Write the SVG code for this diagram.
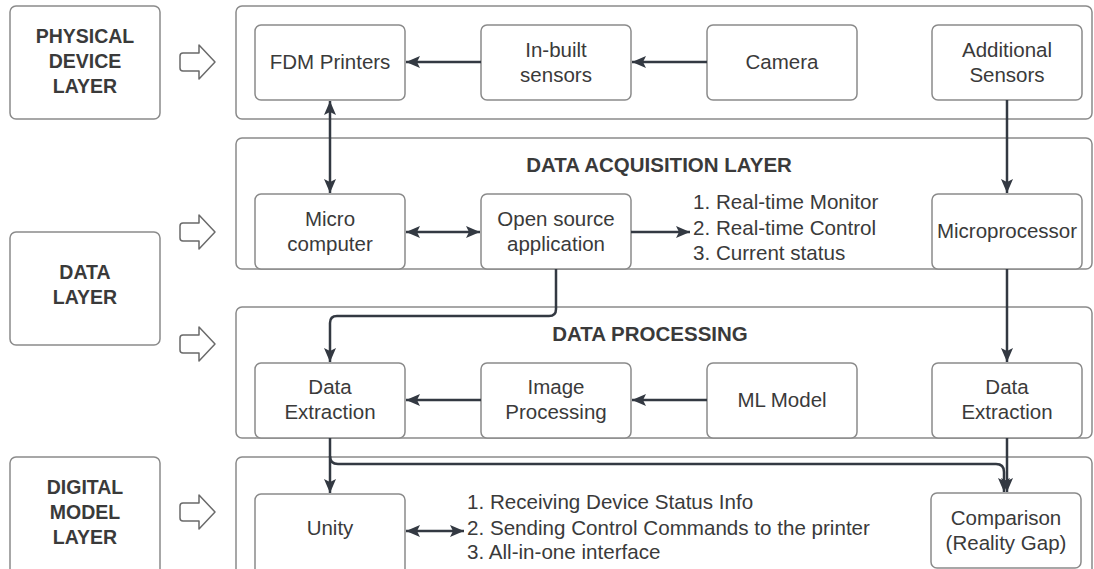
<svg xmlns="http://www.w3.org/2000/svg" width="1094" height="569" viewBox="0 0 1094 569">
  <defs>
    <style>
      .frame { fill: #ffffff; stroke: #8a8a8a; stroke-width: 1.5; }
      .node { fill: #ffffff; stroke: #8a8a8a; stroke-width: 1.5; }
      .hollow { fill: #ffffff; stroke: #6a6a6a; stroke-width: 1.5; stroke-linejoin: round; }
      .lbl { font-family: "Liberation Sans", Arial, sans-serif; font-size: 20.5px; fill: #3a3a3a; text-anchor: middle; }
      .layer { font-family: "Liberation Sans", Arial, sans-serif; font-size: 19.5px; font-weight: bold; fill: #3a3a3a; text-anchor: middle; }
      .title { font-family: "Liberation Sans", Arial, sans-serif; font-size: 20.5px; font-weight: bold; fill: #3a3a3a; text-anchor: middle; }
      .list { font-family: "Liberation Sans", Arial, sans-serif; font-size: 20.6px; fill: #3a3a3a; }
      .link { fill: none; stroke: #333942; stroke-width: 2.5; stroke-linejoin: round; }
    </style>
    <marker id="tip" markerUnits="userSpaceOnUse" markerWidth="14" markerHeight="12" viewBox="0 0 14 12" refX="14" refY="6" orient="auto-start-reverse">
      <path d="M0,0 L14,6 L0,12 L3,6 Z" fill="#333942"/>
    </marker>
  </defs>

  <!-- layer frames -->
  <g id="frames">
    <rect class="frame" x="236" y="6" width="856" height="113" rx="6"/>
    <rect class="frame" x="236" y="138" width="856" height="131" rx="6"/>
    <rect class="frame" x="236" y="307" width="856" height="131" rx="6"/>
    <rect class="frame" x="236" y="457" width="856" height="120" rx="6"/>
  </g>

  <!-- layer names -->
  <g id="layer-physical">
    <rect class="node" x="10" y="6" width="150" height="113" rx="6"/>
    <text class="layer" x="85" y="43">PHYSICAL</text>
    <text class="layer" x="85" y="68">DEVICE</text>
    <text class="layer" x="85" y="93">LAYER</text>
  </g>
  <g id="layer-data">
    <rect class="node" x="10" y="232" width="150" height="113" rx="6"/>
    <text class="layer" x="85" y="279">DATA</text>
    <text class="layer" x="85" y="304">LAYER</text>
  </g>
  <g id="layer-digital">
    <rect class="node" x="10" y="457" width="150" height="120" rx="6"/>
    <text class="layer" x="85" y="494">DIGITAL</text>
    <text class="layer" x="85" y="519">MODEL</text>
    <text class="layer" x="85" y="544">LAYER</text>
  </g>

  <!-- hollow pointers towards the layer frames -->
  <g id="pointers">
    <path class="hollow" d="M183,53 H199 V45 L215,62 L199,79 V71 H183 Q180,71 180,68 V56 Q180,53 183,53 Z"/>
    <path class="hollow" d="M183,223 H199 V215 L215,232 L199,249 V241 H183 Q180,241 180,238 V226 Q180,223 183,223 Z"/>
    <path class="hollow" d="M183,335 H199 V327 L215,344 L199,361 V353 H183 Q180,353 180,350 V338 Q180,335 183,335 Z"/>
    <path class="hollow" d="M183,503 H199 V495 L215,512 L199,529 V521 H183 Q180,521 180,518 V506 Q180,503 183,503 Z"/>
  </g>

  <!-- section titles -->
  <text class="title" x="659" y="172">DATA ACQUISITION LAYER</text>
  <text class="title" x="650" y="341">DATA PROCESSING</text>

  <!-- physical device row -->
  <g id="fdm-printers">
    <rect class="node" x="255" y="25" width="150" height="75" rx="6"/>
    <text class="lbl" x="330" y="69">FDM Printers</text>
  </g>
  <g id="inbuilt-sensors">
    <rect class="node" x="481" y="25" width="150" height="75" rx="6"/>
    <text class="lbl" x="556" y="57">In-built</text>
    <text class="lbl" x="556" y="82">sensors</text>
  </g>
  <g id="camera">
    <rect class="node" x="707" y="25" width="150" height="75" rx="6"/>
    <text class="lbl" x="782" y="69">Camera</text>
  </g>
  <g id="additional-sensors">
    <rect class="node" x="932" y="25" width="150" height="75" rx="6"/>
    <text class="lbl" x="1007" y="57">Additional</text>
    <text class="lbl" x="1007" y="82">Sensors</text>
  </g>

  <!-- data acquisition row -->
  <g id="micro-computer">
    <rect class="node" x="255" y="194" width="150" height="75" rx="6"/>
    <text class="lbl" x="330" y="226">Micro</text>
    <text class="lbl" x="330" y="251">computer</text>
  </g>
  <g id="open-source-app">
    <rect class="node" x="481" y="194" width="150" height="75" rx="6"/>
    <text class="lbl" x="556" y="226">Open source</text>
    <text class="lbl" x="556" y="251">application</text>
  </g>
  <g id="acq-list">
    <text class="list" x="693" y="209">1. Real-time Monitor</text>
    <text class="list" x="693" y="235">2. Real-time Control</text>
    <text class="list" x="693" y="260">3. Current status</text>
  </g>
  <g id="microprocessor">
    <rect class="node" x="932" y="194" width="150" height="75" rx="6"/>
    <text class="lbl" x="1007" y="238">Microprocessor</text>
  </g>

  <!-- data processing row -->
  <g id="data-extraction-left">
    <rect class="node" x="255" y="363" width="150" height="75" rx="6"/>
    <text class="lbl" x="330" y="394">Data</text>
    <text class="lbl" x="330" y="419">Extraction</text>
  </g>
  <g id="image-processing">
    <rect class="node" x="481" y="363" width="150" height="75" rx="6"/>
    <text class="lbl" x="556" y="394">Image</text>
    <text class="lbl" x="556" y="419">Processing</text>
  </g>
  <g id="ml-model">
    <rect class="node" x="707" y="363" width="150" height="75" rx="6"/>
    <text class="lbl" x="782" y="407">ML Model</text>
  </g>
  <g id="data-extraction-right">
    <rect class="node" x="932" y="363" width="150" height="75" rx="6"/>
    <text class="lbl" x="1007" y="394">Data</text>
    <text class="lbl" x="1007" y="419">Extraction</text>
  </g>

  <!-- digital model row -->
  <g id="unity">
    <rect class="node" x="255" y="494" width="150" height="82" rx="6"/>
    <text class="lbl" x="330" y="535">Unity</text>
  </g>
  <g id="unity-list">
    <text class="list" x="467" y="509">1. Receiving Device Status Info</text>
    <text class="list" x="467" y="535">2. Sending Control Commands to the printer</text>
    <text class="list" x="467" y="559">3. All-in-one interface</text>
  </g>
  <g id="comparison">
    <rect class="node" x="931" y="493" width="150" height="75" rx="6"/>
    <text class="lbl" x="1006" y="525">Comparison</text>
    <text class="lbl" x="1006" y="550">(Reality Gap)</text>
  </g>

  <!-- connectors -->
  <g id="connectors">
    <path class="link" d="M707,62 H632" marker-end="url(#tip)"/>
    <path class="link" d="M481,62 H406" marker-end="url(#tip)"/>
    <path class="link" d="M330,101 V193" marker-start="url(#tip)" marker-end="url(#tip)"/>
    <path class="link" d="M406,232 H480" marker-start="url(#tip)" marker-end="url(#tip)"/>
    <path class="link" d="M631,232 H690" marker-end="url(#tip)"/>
    <path class="link" d="M1007,100 V193" marker-end="url(#tip)"/>
    <path class="link" d="M556,269 V309 Q556,316 549,316 H337 Q330,316 330,323 V362" marker-end="url(#tip)"/>
    <path class="link" d="M1007,269 V362" marker-end="url(#tip)"/>
    <path class="link" d="M707,400 H632" marker-end="url(#tip)"/>
    <path class="link" d="M481,400 H406" marker-end="url(#tip)"/>
    <path class="link" d="M330,438 V493" marker-end="url(#tip)"/>
    <path class="link" d="M330,456 Q330,464 338,464 H996 Q1004,464 1004,472 V492" marker-end="url(#tip)"/>
    <path class="link" d="M1007,438 V492" marker-end="url(#tip)"/>
    <path class="link" d="M406,531 H464" marker-start="url(#tip)" marker-end="url(#tip)"/>
  </g>
</svg>
